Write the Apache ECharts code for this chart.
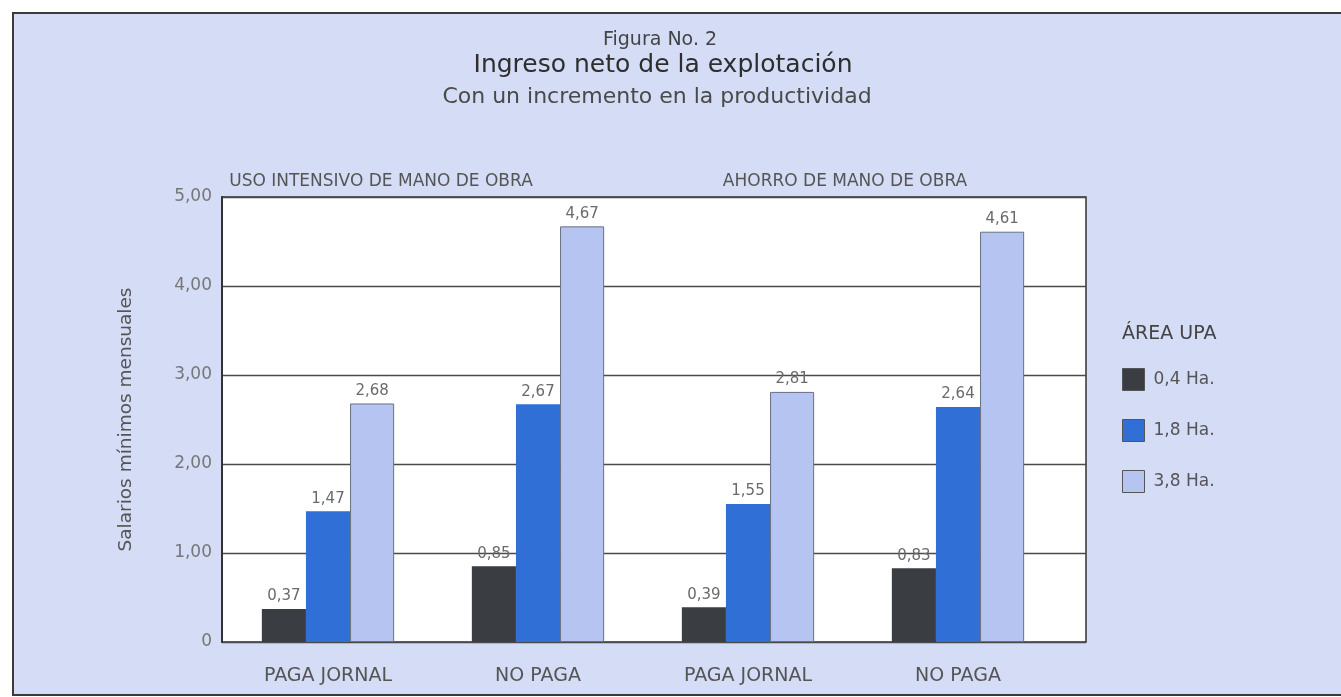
<!DOCTYPE html>
<html>
<head>
<meta charset="utf-8">
<script src="https://cdn.jsdelivr.net/npm/echarts@6/dist/echarts.min.js"></script>
<style>
html,body{margin:0;padding:0;background:#fff;}
#chart{width:1341px;height:697px;}
</style>
</head>
<body>
<div id="chart"></div>
<script>
// ---- data ----
var categories = ['PAGA JORNAL', 'NO PAGA', 'PAGA JORNAL', 'NO PAGA'];
var groupLabels = ['USO INTENSIVO DE MANO DE OBRA', 'AHORRO DE MANO DE OBRA'];
var seriesNames = ['0,4 Ha.', '1,8 Ha.', '3,8 Ha.'];
var area04 = [0.37, 0.85, 0.39, 0.83];
var area18 = [1.47, 2.67, 1.55, 2.64];
var area38 = [2.68, 4.67, 2.81, 4.61];
var yTicks = [0, 1, 2, 3, 4, 5];

var FONT = '"DejaVu Sans", Verdana, sans-serif';
function fmt(v) { return v === 0 ? '0' : v.toFixed(2).replace('.', ','); }

var chart = echarts.init(document.getElementById('chart'));
var colors = ['#3a3d41', '#2f6fd6', '#b5c4f1'];

function barSeries(name, data, idx) {
  return {
    name: name,
    type: 'bar',
    xAxisIndex: 1,
    yAxisIndex: 1,
    data: data,
    barGap: '0%',
    barCategoryGap: '37%',
    itemStyle: {
      color: colors[idx],
      borderColor: idx === 2 ? '#6a7080' : colors[idx],
      borderWidth: idx === 2 ? 1 : 0
    },
    label: {
      show: true,
      position: 'top',
      distance: 5,
      fontFamily: FONT,
      fontSize: 15,
      color: '#6a6a6a',
      formatter: function (p) { return fmt(p.value); }
    }
  };
}

var option = {
  animation: false,
  textStyle: { fontFamily: FONT },
  graphic: [{
    type: 'rect',
    z: -100,
    shape: { x: 13, y: 13, width: 1345, height: 682 },
    style: { fill: '#d4dcf6', stroke: '#3a3a3a', lineWidth: 2 }
  }],
  title: [
    { text: 'Figura No. 2', left: 655, top: 26, textAlign: 'center',
      textStyle: { fontFamily: FONT, fontSize: 19, fontWeight: 'normal', color: '#444' } },
    { text: 'Ingreso neto de la explotación', left: 658, top: 48, textAlign: 'center',
      textStyle: { fontFamily: FONT, fontSize: 25, fontWeight: 'normal', color: '#2e2e2e' } },
    { text: 'Con un incremento en la productividad', left: 652, top: 81, textAlign: 'center',
      textStyle: { fontFamily: FONT, fontSize: 22, fontWeight: 'normal', color: '#4a4a4a' } },
    { text: groupLabels[0], left: 376, top: 168, textAlign: 'center',
      textStyle: { fontFamily: FONT, fontSize: 17, fontWeight: 'normal', color: '#555' } },
    { text: groupLabels[1], left: 840, top: 168, textAlign: 'center',
      textStyle: { fontFamily: FONT, fontSize: 17, fontWeight: 'normal', color: '#555' } },
    { text: 'ÁREA UPA', left: 1122, top: 325, padding: 0,
      textStyle: { fontFamily: FONT, fontSize: 19, fontWeight: 'normal', color: '#444' } }
  ],
  legend: {
    orient: 'vertical',
    left: 1122,
    top: 368,
    padding: 0,
    icon: 'rect',
    itemWidth: 22,
    itemHeight: 22,
    itemGap: 28,
    data: seriesNames,
    textStyle: { fontFamily: FONT, fontSize: 17, color: '#555', padding: [0, 0, 0, 4] },
    itemStyle: { borderColor: '#555', borderWidth: 1 }
  },
  grid: [
    { left: 222, top: 197, width: 864, height: 445, show: true,
      backgroundColor: '#ffffff', borderColor: '#333', borderWidth: 1.5 },
    { left: 223, top: 197, width: 840, height: 445 }
  ],
  xAxis: [
    { gridIndex: 0, type: 'value', min: 0, max: 1, show: false },
    { gridIndex: 1, type: 'category', data: categories,
      axisLine: { show: false }, axisTick: { show: false },
      axisLabel: { margin: 25, fontFamily: FONT, fontSize: 19, color: '#555' } }
  ],
  yAxis: [
    { gridIndex: 0, type: 'value', min: yTicks[0], max: yTicks[yTicks.length - 1], interval: 1,
      name: 'Salarios mínimos mensuales', nameLocation: 'middle', nameGap: 86, nameRotate: 90,
      nameTextStyle: { fontFamily: FONT, fontSize: 18.5, color: '#555' },
      axisLine: { show: true, lineStyle: { color: '#333', width: 2 } },
      axisTick: { show: false },
      axisLabel: { margin: 10, fontFamily: FONT, fontSize: 17, color: '#777', formatter: fmt },
      splitLine: { show: true, lineStyle: { color: '#4a4a4a', width: 1.3 } } },
    { gridIndex: 1, type: 'value', min: 0, max: 5, show: false }
  ],
  series: [
    barSeries(seriesNames[0], area04, 0),
    barSeries(seriesNames[1], area18, 1),
    barSeries(seriesNames[2], area38, 2)
  ]
};
chart.setOption(option);
</script>
</body>
</html>
